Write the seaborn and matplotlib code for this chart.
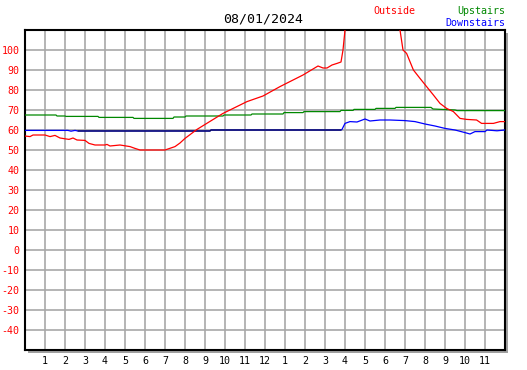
import matplotlib
matplotlib.use("Agg")
import matplotlib.pyplot as plt
import seaborn as sns
import pandas as pd
from matplotlib.patches import Rectangle

# hours since midnight
out_hours = [0, 0.25, 0.4, 1.0, 1.25, 1.5, 1.75, 2.2, 2.4, 2.6, 3.0, 3.2, 3.5, 4.0, 4.1, 4.25,
             4.75, 5.25, 5.5, 5.75, 7.0, 7.5, 7.75, 8.0, 8.6, 9.9, 11.1, 11.9, 12.75, 13.9,
             14.65, 14.9, 15.1, 15.35, 15.6, 15.8, 15.9, 16.0, 16.2, 17.4, 18.5, 18.75, 18.9,
             19.08, 19.42, 19.75, 20.08, 20.42, 20.75, 21.08, 21.42, 21.75, 22.08, 22.58,
             22.83, 23.42, 23.75, 24.0]
outside = [57, 56.7, 57.5, 57.5, 56.7, 57.3, 56, 55.3, 56, 55, 54.8, 53.3, 52.5, 52.5, 52.8, 52,
           52.5, 51.7, 50.8, 50, 50, 51.7, 53.5, 55.8, 60.3, 68.3, 74.2, 77, 81.7, 87.5,
           92, 91, 91, 92.5, 93.3, 94, 100, 110, 125, 140, 125, 110, 100,
           98.3, 90, 85.8, 81.7, 77.5, 73.3, 70.8, 69.2, 65.8, 65.3, 65,
           63.3, 63.3, 64.2, 64.2]

up_hours = [0, 1.55, 1.6, 2.0, 2.05, 3.65, 3.7, 5.4, 5.45, 7.4, 7.45, 8.0, 8.05, 9.9, 9.95,
            11.3, 11.35, 12.9, 12.95, 13.9, 13.95, 15.75, 15.8, 16.4, 16.45, 17.5, 17.55,
            18.5, 18.55, 20.3, 20.4, 21.5, 21.6, 24.0]
upstairs = [67.5, 67.5, 67, 67, 66.8, 66.8, 66.3, 66.3, 65.8, 65.8, 66.5, 66.5, 67, 67, 67.5,
            67.5, 68, 68, 68.7, 68.7, 69.2, 69.2, 69.8, 69.8, 70.3, 70.3, 70.8,
            70.8, 71.3, 71.3, 70.5, 70.0, 69.7, 69.7]

down_hours = [0, 2.15, 2.3, 2.5, 2.65, 9.25, 9.3, 15.8, 15.85, 16.0, 16.25, 16.6, 17.0, 17.25,
              17.75, 18.25, 19.0, 19.5, 20.0, 20.5, 21.0, 21.5, 22.0, 22.25, 22.5, 23.0,
              23.1, 23.6, 24.0]
downstairs = [59.8, 59.8, 59.4, 59.8, 59.5, 59.5, 60, 60, 60.3, 63.3, 64.2, 64.0, 65.5, 64.5,
              65.0, 65.0, 64.7, 64.2, 63.0, 62.0, 60.8, 60.0, 58.7, 58.0, 59.2, 59.2,
              60.0, 59.6, 60.0]

# flat section drawn dark
flat_hours = [2.65, 9.25, 9.3, 15.8]
flat_vals = [59.5, 59.5, 60, 60]

tick_hours = list(range(1, 24))
tick_labels = [str(h % 12 if h % 12 else 12) for h in tick_hours]
y_ticks = list(range(-40, 101, 10))

sns.set_style("white")
plt.rcParams['font.family'] = ['DejaVu Sans Mono', 'DejaVu Sans']

fig = plt.figure(figsize=(5.27, 3.70), dpi=100)
W, H = 527, 370
ax = fig.add_axes([25 / W, 20 / H, 480 / W, 320 / H])

# drop shadow
fig.patches.append(Rectangle(((25 + 3) / W, (20 - 3) / H), 480 / W, 320 / H,
                             transform=fig.transFigure, facecolor='#a0a0a0',
                             edgecolor='none', zorder=0))
ax.set_zorder(1)

df_out = pd.DataFrame({"hour": out_hours, "temp": outside})
df_up = pd.DataFrame({"hour": up_hours, "temp": upstairs})
df_down = pd.DataFrame({"hour": down_hours, "temp": downstairs})
df_flat = pd.DataFrame({"hour": flat_hours, "temp": flat_vals})

sns.lineplot(data=df_up, x="hour", y="temp", ax=ax, color='#008800', lw=0.9, zorder=3)
sns.lineplot(data=df_down, x="hour", y="temp", ax=ax, color='#0000ff', lw=0.9, zorder=3)
sns.lineplot(data=df_flat, x="hour", y="temp", ax=ax, color='#0a0a50', lw=0.9, zorder=4)
sns.lineplot(data=df_out, x="hour", y="temp", ax=ax, color='#ff0000', lw=0.9, zorder=5)

ax.set_xlim(0, 24)
ax.set_ylim(-50, 110)
ax.set_xticks(tick_hours)
ax.set_xticklabels(tick_labels)
ax.set_yticks(y_ticks)
ax.set_yticklabels([str(v) for v in y_ticks])
ax.set_xlabel("")
ax.set_ylabel("")
ax.grid(True, color='#a8a8a8', lw=1.2)
ax.set_axisbelow(True)
ax.tick_params(axis='both', direction='in', length=4, width=1.2, color='black',
               labelsize=7.2)
ax.tick_params(axis='y', labelcolor='#ff0000', pad=4)
ax.tick_params(axis='x', labelcolor='black', pad=4)
for s in ax.spines.values():
    s.set_visible(True)
    s.set_color('black')
    s.set_linewidth(1.5)
ax.set_facecolor('white')

fig.text(263 / W, 1 - 19 / H, "08/01/2024", ha='center', va='center', fontsize=9.5, color='black')
fig.text(394 / W, 1 - 11 / H, "Outside", ha='center', va='center', fontsize=7.2, color='#ff0000')
fig.text(505 / W, 1 - 11 / H, "Upstairs", ha='right', va='center', fontsize=7.2, color='#008800')
fig.text(505 / W, 1 - 23 / H, "Downstairs", ha='right', va='center', fontsize=7.2, color='#0000ff')

fig.savefig("out.png", dpi=100)
